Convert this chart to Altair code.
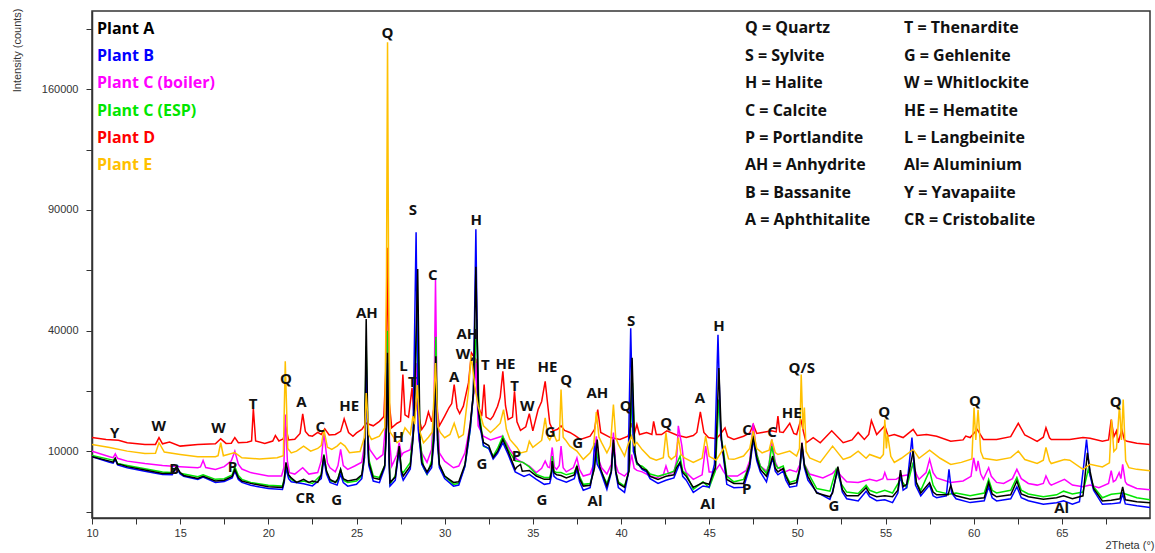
import altair as alt
import pandas as pd

# ---- diffraction patterns: (2theta in degrees, intensity in counts) ----
plant_a = [
    (10.0, 9140), (11.0, 8460), (11.2, 8300), (11.32, 8900), (11.45, 8000), (11.6, 7970),
    (12.0, 7640), (13.0, 7150), (14.0, 6690), (14.55, 6700), (14.8, 7640), (15.0, 6800),
    (15.2, 6420), (16.0, 6030), (16.3, 6300), (17.0, 5700), (17.5, 5800), (17.95, 6300),
    (18.1, 7250), (18.3, 6100), (18.5, 5700), (19.0, 5410), (20.0, 5000), (20.8, 4920),
    (20.9, 5800), (21.0, 8270), (21.15, 6500), (21.3, 6100), (21.6, 5530), (22.0, 5910),
    (22.3, 5530), (22.5, 5700), (22.8, 5530), (23.0, 6500), (23.15, 9350), (23.3, 7000),
    (23.5, 5910), (23.8, 5530), (23.95, 6000), (24.1, 7250), (24.25, 6000), (24.5, 5700),
    (25.0, 5910), (25.3, 6500), (25.45, 9500), (25.55, 44000), (25.65, 12000), (25.7, 8270),
    (25.95, 6100), (26.3, 5910), (26.6, 7800), (26.7, 15000), (26.76, 33000), (26.85, 9000),
    (26.9, 5530), (27.2, 6200), (27.42, 10900), (27.55, 7000), (27.65, 6340), (28.05, 7700),
    (28.25, 14000), (28.47, 63000), (28.6, 12000), (28.7, 8270), (29.0, 6900), (29.26, 8000),
    (29.4, 13000), (29.5, 32000), (29.6, 12000), (29.7, 7970), (30.0, 6340), (30.5, 5530),
    (30.8, 5600), (31.15, 7970), (31.45, 15000), (31.63, 22000), (31.77, 64000), (31.92, 18000),
    (32.0, 15220), (32.2, 11540), (32.5, 11000), (32.75, 9030), (33.0, 10000), (33.3, 12080),
    (33.6, 10000), (34.0, 7250), (34.1, 7600), (34.3, 7970), (34.4, 7000), (34.8, 7100),
    (35.2, 6340), (35.65, 5910), (35.96, 5910), (36.05, 6800), (36.1, 8460), (36.2, 6800),
    (36.35, 6500), (36.6, 6400), (36.9, 6100), (37.35, 6500), (37.5, 7730), (37.65, 6000),
    (37.86, 5080), (38.25, 5180), (38.5, 7500), (38.65, 12080), (38.8, 7600), (39.2, 5080),
    (39.45, 7000), (39.57, 12080), (39.7, 7000), (39.85, 5400), (40.2, 4930), (40.45, 7000),
    (40.63, 31500), (40.78, 10000), (40.9, 8270), (41.2, 7400), (41.45, 7100), (41.65, 6300),
    (42.1, 5900), (42.55, 6300), (43.0, 6500), (43.15, 7500), (43.35, 8270), (43.5, 6800),
    (43.7, 6300), (44.1, 4930), (44.65, 5500), (45.0, 5300), (45.35, 7500), (45.55, 28600),
    (45.7, 12000), (45.8, 9760), (46.0, 5900), (46.4, 5400), (46.95, 5400), (47.3, 8000),
    (47.5, 12680), (47.7, 9000), (47.9, 7250), (48.25, 6300), (48.4, 7300), (48.6, 9250),
    (48.75, 7400), (48.9, 6900), (49.2, 7400), (49.35, 6300), (49.57, 5300), (49.96, 5500),
    (50.15, 7500), (50.26, 11490), (50.4, 7800), (50.6, 6300), (51.1, 4300), (51.85, 3900),
    (52.0, 4300), (52.3, 7640), (52.55, 4700), (52.8, 4000), (53.45, 4000), (53.9, 4900),
    (54.1, 4200), (54.5, 3900), (54.96, 4000), (55.4, 3900), (55.7, 4600), (55.85, 7150),
    (56.0, 5000), (56.2, 5300), (56.57, 10050), (56.75, 5500), (57.0, 4300), (57.5, 5500),
    (57.7, 4400), (57.9, 4100), (58.55, 4100), (58.7, 5200), (58.85, 4200), (59.0, 4000),
    (59.8, 3640), (60.6, 3800), (60.85, 5500), (61.05, 4200), (61.3, 3900), (62.1, 4100),
    (62.45, 5700), (62.7, 4200), (63.1, 3900), (63.95, 3640), (64.7, 3800), (65.1, 4000),
    (65.6, 3700), (66.2, 4000), (66.45, 9760), (66.6, 7000), (66.8, 4800), (67.3, 3480),
    (67.8, 3550), (68.3, 3700), (68.45, 5000), (68.6, 3600), (69.25, 3400), (70.0, 3300),
]

plant_b = [
    (10.0, 9140), (11.0, 8300), (11.2, 8150), (11.32, 8700), (11.45, 7900), (12.0, 7480),
    (13.0, 7000), (14.0, 6560), (14.55, 6500), (14.8, 7500), (15.0, 6600), (15.2, 6300),
    (16.0, 5910), (16.3, 6200), (17.0, 5530), (17.5, 5650), (17.95, 6100), (18.1, 7000),
    (18.3, 5900), (18.5, 5530), (19.0, 5180), (20.0, 4790), (20.8, 4700), (20.9, 5500),
    (21.0, 7480), (21.15, 6000), (21.3, 5600), (22.0, 5350), (22.5, 5100), (23.0, 6000),
    (23.15, 8800), (23.3, 6600), (23.5, 5530), (23.9, 5200), (24.1, 6560), (24.25, 5500),
    (24.5, 5080), (25.0, 5300), (25.3, 6000), (25.45, 9000), (25.55, 30000), (25.65, 10000),
    (25.7, 7800), (25.95, 5700), (26.3, 5500), (26.6, 7500), (26.7, 14000), (26.76, 30000),
    (26.85, 8000), (26.9, 5080), (27.2, 5800), (27.42, 10330), (27.55, 6500), (27.65, 5800),
    (28.05, 7300), (28.2, 12000), (28.38, 79250), (28.5, 14000), (28.7, 8000), (29.0, 6600),
    (29.26, 7500), (29.4, 12000), (29.5, 28000), (29.6, 11000), (29.7, 7500), (30.0, 6000),
    (30.5, 5080), (30.8, 5200), (31.15, 7700), (31.45, 14000), (31.63, 22000), (31.77, 80650),
    (31.9, 18000), (32.0, 14700), (32.2, 11000), (32.5, 10500), (32.75, 8800), (33.0, 9700),
    (33.3, 11500), (33.6, 9500), (34.0, 6900), (34.5, 6300), (34.8, 6560), (35.2, 5900),
    (35.65, 5290), (35.96, 5400), (36.05, 6300), (36.1, 8000), (36.2, 6300), (36.35, 6000),
    (36.9, 5550), (37.35, 6000), (37.5, 7250), (37.65, 5600), (37.86, 4600), (38.25, 4900),
    (38.4, 7000), (38.5, 11490), (38.65, 8000), (38.8, 7250), (39.2, 4700), (39.45, 6800),
    (39.57, 11490), (39.7, 6800), (39.85, 4900), (40.2, 4370), (40.4, 6500), (40.55, 40800),
    (40.7, 10000), (40.9, 8270), (41.2, 7250), (41.45, 6900), (41.65, 6000), (42.1, 5400),
    (42.55, 5800), (43.0, 6100), (43.15, 7000), (43.35, 8270), (43.5, 6300), (43.7, 5800),
    (44.1, 4370), (44.65, 5100), (45.0, 4950), (45.3, 8000), (45.5, 38700), (45.65, 13000),
    (45.8, 9250), (46.0, 5290), (46.4, 4900), (46.95, 4950), (47.3, 7500), (47.5, 12080),
    (47.7, 8500), (47.9, 6900), (48.25, 5600), (48.4, 7000), (48.6, 8970), (48.75, 7000),
    (48.9, 6500), (49.2, 7000), (49.35, 5800), (49.57, 4950), (49.96, 5100), (50.15, 7300),
    (50.26, 11000), (50.4, 7500), (50.6, 5800), (51.1, 4400), (51.85, 3640), (52.0, 4500),
    (52.3, 7250), (52.55, 4400), (52.8, 3700), (53.45, 3480), (53.9, 4500), (54.1, 3900),
    (54.5, 3500), (54.96, 3600), (55.4, 3320), (55.7, 4300), (55.85, 6560), (56.0, 4600),
    (56.2, 4900), (56.5, 12430), (56.7, 5200), (57.0, 4000), (57.5, 5200), (57.7, 4000),
    (57.9, 3800), (58.45, 4000), (58.6, 7250), (58.75, 4300), (59.0, 3700), (59.8, 3320),
    (60.6, 3500), (60.85, 5000), (61.05, 3800), (61.3, 3480), (62.1, 3700), (62.45, 5000),
    (62.7, 3800), (63.1, 3500), (63.95, 3160), (64.7, 3300), (65.1, 3500), (65.6, 3160),
    (66.0, 3400), (66.25, 8000), (66.4, 12080), (66.6, 6500), (66.8, 4600), (67.3, 3160),
    (67.8, 3200), (68.3, 3300), (68.45, 4200), (68.6, 3200), (69.25, 3020), (70.0, 2870),
]

plant_c_boiler = [
    (10.0, 10050), (11.0, 9140), (11.2, 9000), (11.32, 9600), (11.45, 8900), (12.0, 8460),
    (13.0, 8100), (14.0, 7820), (15.0, 7640), (16.0, 7480), (16.15, 7600), (16.3, 8560),
    (16.45, 7500), (17.0, 7250), (17.5, 7640), (17.9, 8500), (18.1, 10050), (18.3, 8000),
    (18.5, 7300), (19.0, 6800), (20.0, 6340), (20.75, 6340), (20.88, 7500), (20.96, 17060),
    (21.08, 8500), (21.2, 6800), (21.5, 6600), (21.95, 7480), (22.3, 6600), (22.8, 6800),
    (23.0, 8500), (23.15, 13390), (23.35, 8200), (23.5, 7480), (23.8, 6900), (23.95, 7800),
    (24.1, 10330), (24.25, 7800), (24.5, 7250), (24.9, 7730), (25.3, 8300), (25.45, 11000),
    (25.55, 25000), (25.68, 11500), (25.75, 10330), (26.15, 8730), (26.5, 9500), (26.65, 15000),
    (26.76, 40000), (26.87, 12000), (27.0, 7730), (27.3, 9500), (27.42, 11490), (27.55, 9300),
    (27.65, 9760), (28.05, 10300), (28.25, 14000), (28.38, 30000), (28.55, 12000), (28.7, 9760),
    (29.0, 8270), (29.26, 10330), (29.4, 20000), (29.48, 58600), (29.57, 20000), (29.7, 9760),
    (30.0, 8460), (30.5, 7480), (30.8, 7730), (31.15, 9760), (31.45, 15000), (31.65, 22000),
    (31.77, 30000), (31.9, 14700), (32.2, 12680), (32.6, 12000), (33.25, 12680), (33.5, 11500),
    (33.7, 10330), (34.1, 8730), (34.8, 7730), (35.2, 6800), (35.5, 7400), (35.7, 8460),
    (35.85, 7600), (35.96, 7500), (36.1, 10670), (36.22, 7600), (36.35, 7250), (36.5, 7800),
    (36.6, 10900), (36.72, 7500), (36.9, 6900), (37.3, 7500), (37.5, 8970), (37.65, 7200),
    (37.86, 6340), (38.25, 6600), (38.45, 8000), (38.6, 12680), (38.75, 8500), (38.9, 7480),
    (39.2, 6600), (39.45, 8000), (39.57, 13390), (39.7, 8000), (39.85, 6800), (40.2, 6340),
    (40.45, 7000), (40.6, 9500), (40.75, 7400), (40.9, 7100), (41.2, 6900), (41.65, 6340),
    (42.0, 6100), (42.4, 6500), (42.55, 7730), (42.7, 6600), (43.0, 6900), (43.15, 8500),
    (43.25, 14700), (43.45, 11000), (43.6, 7500), (43.7, 6800), (44.1, 5910), (44.6, 6500),
    (44.8, 10900), (45.0, 6900), (45.3, 6900), (45.6, 7970), (45.8, 7000), (46.0, 6340),
    (46.6, 6340), (47.1, 7100), (47.3, 8500), (47.5, 15220), (47.7, 9500), (47.9, 7730),
    (48.25, 7000), (48.4, 8000), (48.55, 12080), (48.75, 8300), (48.9, 7480), (49.3, 6900),
    (49.57, 7200), (49.96, 6900), (50.15, 8000), (50.26, 11500), (50.4, 8000), (50.7, 6600),
    (51.45, 6100), (52.0, 6700), (52.2, 7250), (52.5, 6300), (52.8, 5600), (53.45, 5530),
    (54.1, 5910), (54.5, 5700), (54.85, 6000), (54.96, 6800), (55.1, 5900), (55.6, 5910),
    (55.9, 6340), (56.3, 6500), (56.57, 7970), (56.75, 6600), (56.9, 5910), (57.3, 6800),
    (57.5, 8730), (57.7, 6800), (57.9, 6100), (58.7, 5530), (59.4, 5700), (59.85, 6300),
    (60.0, 8970), (60.15, 7000), (60.25, 8500), (60.4, 6600), (60.55, 5910), (60.85, 7480),
    (61.0, 6300), (61.3, 5530), (61.7, 5400), (62.2, 6000), (62.45, 7250), (62.7, 6000),
    (63.1, 5400), (63.6, 5200), (63.95, 5400), (64.1, 6340), (64.3, 5400), (64.4, 5200),
    (65.15, 5900), (65.6, 5200), (66.2, 5000), (66.6, 5200), (67.1, 4900), (67.65, 5400),
    (67.8, 7070), (67.92, 5600), (68.05, 5800), (68.25, 6800), (68.35, 6000), (68.45, 7970),
    (68.6, 5600), (68.7, 5300), (69.25, 4800), (70.0, 4660),
]

plant_c_esp = [
    (10.0, 9350), (11.0, 8730), (11.2, 8600), (11.3, 8900), (11.45, 8100), (12.0, 7820),
    (13.0, 7350), (14.0, 6880), (14.5, 6800), (14.8, 7640), (15.0, 6700), (16.0, 6260),
    (16.3, 6500), (17.0, 5910), (17.5, 6000), (17.95, 6500), (18.1, 7640), (18.3, 6400),
    (18.5, 5910), (19.0, 5530), (20.0, 5180), (20.8, 5080), (20.9, 6000), (21.0, 7970),
    (21.1, 6500), (21.3, 5910), (21.6, 5530), (22.0, 5700), (22.5, 5400), (23.0, 6500),
    (23.15, 9510), (23.3, 7000), (23.5, 5700), (23.9, 5600), (24.1, 7250), (24.25, 5800),
    (24.5, 5530), (25.0, 5700), (25.3, 6300), (25.45, 9000), (25.55, 35000), (25.65, 12000),
    (25.7, 8730), (25.95, 6340), (26.3, 6160), (26.6, 7800), (26.7, 15000), (26.76, 40000),
    (26.85, 10000), (26.9, 5290), (27.2, 6400), (27.42, 10670), (27.55, 7000), (27.65, 6800),
    (28.05, 8270), (28.25, 15000), (28.45, 49060), (28.6, 12000), (28.8, 7480), (29.0, 6560),
    (29.26, 8500), (29.4, 15000), (29.5, 38000), (29.6, 13000), (29.7, 7800), (30.0, 6340),
    (30.5, 5290), (30.8, 5400), (31.15, 7730), (31.45, 14000), (31.63, 22000), (31.82, 44000),
    (31.95, 18000), (32.05, 15000), (32.2, 10900), (32.5, 10500), (32.75, 9250), (33.0, 10500),
    (33.3, 12680), (33.6, 10300), (34.0, 8500), (34.45, 8270), (34.8, 7600), (35.2, 6560),
    (35.65, 6160), (35.96, 6160), (36.05, 7000), (36.1, 9250), (36.2, 7000), (36.35, 6800),
    (36.6, 6800), (36.9, 6500), (37.35, 6800), (37.5, 7730), (37.65, 6300), (37.86, 5290),
    (38.25, 5400), (38.45, 7000), (38.6, 10330), (38.8, 7300), (39.2, 5400), (39.45, 7000),
    (39.57, 11490), (39.7, 7000), (39.85, 5600), (40.2, 5080), (40.45, 7000), (40.65, 24580),
    (40.8, 9000), (40.9, 7970), (41.2, 7700), (41.45, 7200), (41.65, 6600), (42.1, 6300),
    (42.55, 6600), (43.0, 7000), (43.15, 7970), (43.35, 9250), (43.5, 7000), (43.7, 6600),
    (44.1, 4710), (44.65, 5600), (45.0, 4900), (45.35, 7000), (45.55, 20450), (45.7, 12000),
    (45.8, 10330), (46.0, 6340), (46.4, 5600), (46.95, 5900), (47.3, 8000), (47.5, 13390),
    (47.7, 9500), (47.9, 7730), (48.25, 6700), (48.4, 8000), (48.55, 10900), (48.75, 8000),
    (48.9, 7400), (49.2, 7730), (49.35, 6500), (49.57, 5530), (49.96, 5800), (50.15, 7500),
    (50.26, 10900), (50.4, 8000), (50.6, 6800), (51.1, 4800), (51.85, 4500), (52.2, 7250),
    (52.5, 5300), (52.8, 4400), (53.45, 4250), (53.9, 5180), (54.1, 4600), (54.5, 4300),
    (54.96, 4600), (55.4, 4300), (55.85, 5910), (56.2, 4900), (56.57, 8270), (56.75, 5500),
    (57.0, 4600), (57.5, 7070), (57.7, 5200), (57.9, 4500), (58.6, 4160), (59.0, 4300),
    (59.8, 4000), (60.6, 4300), (60.85, 5910), (61.05, 4600), (61.3, 4300), (62.1, 4600),
    (62.45, 6160), (62.7, 4600), (63.1, 4200), (63.95, 3900), (64.7, 4100), (65.1, 4500),
    (65.6, 4200), (66.2, 4400), (66.5, 7250), (66.8, 5000), (67.3, 3800), (67.8, 4160),
    (68.45, 4300), (69.25, 3800), (70.0, 3590),
]

plant_d = [
    (10.0, 12430), (10.8, 12080), (11.5, 11950), (12.0, 11490), (13.0, 11190), (13.6, 11190),
    (13.8, 12430), (14.0, 11300), (14.4, 11600), (15.0, 10900), (16.0, 11190), (17.0, 11300),
    (17.3, 12200), (17.6, 11370), (17.9, 11400), (18.1, 12430), (18.3, 11500), (18.8, 11600),
    (19.05, 11800), (19.15, 18330), (19.28, 11800), (19.8, 11370), (20.25, 11800), (20.4, 12800),
    (20.6, 11800), (20.85, 12200), (20.98, 14500), (21.15, 12000), (21.5, 12100), (21.8, 13200),
    (21.95, 17210), (22.1, 13600), (22.3, 12800), (22.5, 12680), (22.8, 13390), (23.0, 13000),
    (23.2, 14100), (23.45, 12900), (23.8, 13000), (24.1, 13600), (24.3, 16130), (24.55, 13390),
    (24.8, 12680), (25.0, 13300), (25.3, 13970), (25.55, 15220), (25.95, 14700), (26.3, 15610),
    (26.55, 16600), (26.68, 30000), (26.76, 72150), (26.85, 20000), (27.0, 14300), (27.3, 15220),
    (27.5, 15600), (27.63, 26770), (27.75, 17000), (27.95, 16500), (28.15, 23300), (28.25, 17500),
    (28.38, 20000), (28.5, 17000), (28.7, 13970), (28.9, 15000), (29.08, 17600), (29.26, 15500),
    (29.48, 20450), (29.7, 14700), (30.0, 16700), (30.25, 18600), (30.4, 19500), (30.54, 24150),
    (30.7, 18500), (30.85, 17250), (31.06, 18900), (31.35, 24580), (31.52, 33000), (31.77, 31000),
    (31.95, 18500), (32.1, 16700), (32.24, 24150), (32.35, 16500), (32.6, 15980), (32.75, 16700),
    (33.0, 18900), (33.15, 21000), (33.3, 27680), (33.45, 19000), (33.6, 15980), (33.85, 16500),
    (33.96, 22460), (34.1, 15500), (34.3, 13800), (34.6, 14500), (34.8, 17250), (35.0, 13700),
    (35.3, 18140), (35.5, 20000), (35.7, 25000), (35.85, 19000), (35.96, 15220), (36.15, 13700),
    (36.4, 14000), (36.6, 14700), (36.8, 13800), (37.1, 13390), (37.4, 12800), (37.7, 12080),
    (38.25, 12680), (38.5, 14000), (38.68, 18140), (38.85, 13390), (39.4, 12430), (39.94, 12080),
    (40.4, 12680), (40.6, 15220), (40.75, 13000), (40.9, 14960), (41.05, 13000), (41.45, 13390),
    (41.75, 13000), (41.85, 15610), (42.0, 13000), (42.3, 13000), (42.6, 13700), (43.15, 12900),
    (43.7, 12430), (44.1, 12800), (44.3, 13390), (44.5, 17600), (44.7, 13400), (44.96, 12430),
    (45.4, 12200), (45.6, 12900), (45.9, 14300), (46.05, 12600), (46.4, 12080), (46.95, 12680),
    (47.3, 13300), (47.5, 14960), (47.7, 13200), (48.0, 13390), (48.55, 13700), (48.8, 13500),
    (48.9, 16700), (49.0, 13500), (49.2, 13390), (49.57, 15220), (49.8, 13200), (49.96, 13000),
    (50.2, 16000), (50.35, 13500), (50.5, 11490), (50.9, 12430), (51.3, 11490), (51.95, 13700),
    (52.6, 11490), (53.1, 12000), (53.45, 13390), (53.8, 12080), (54.05, 13000), (54.2, 15800),
    (54.5, 13000), (54.96, 14700), (55.15, 12700), (55.5, 13000), (56.0, 12430), (56.57, 13970),
    (56.8, 12800), (57.33, 13000), (57.9, 12680), (58.7, 11750), (59.4, 12000), (59.55, 12700),
    (59.8, 12430), (60.2, 13970), (60.55, 12080), (61.3, 12080), (62.1, 12600), (62.53, 15200),
    (62.9, 12900), (63.2, 12430), (63.6, 11750), (63.95, 12500), (64.1, 14300), (64.3, 12400),
    (64.4, 12080), (65.45, 12080), (66.2, 12430), (66.6, 12300), (67.3, 11750), (67.65, 12000),
    (67.8, 15980), (67.95, 12600), (68.1, 13700), (68.2, 11500), (68.4, 13970), (68.55, 12000),
    (68.7, 11750), (69.25, 11410), (70.0, 11190),
]

plant_e = [
    (10.0, 11190), (11.0, 10670), (12.0, 10050), (13.0, 9680), (13.6, 9700), (13.8, 11490),
    (14.1, 9900), (15.0, 9510), (16.0, 9140), (17.0, 9140), (17.15, 9300), (17.3, 11490),
    (17.45, 9300), (18.1, 9800), (18.5, 8970), (19.5, 8800), (20.5, 8970), (20.85, 9300),
    (20.96, 30480), (21.1, 10500), (21.3, 9760), (21.6, 10050), (22.0, 10900), (22.4, 10050),
    (22.8, 10500), (23.0, 11000), (23.15, 13970), (23.35, 10700), (23.6, 10330), (23.9, 10900),
    (24.1, 11490), (24.35, 10900), (24.6, 9800), (25.2, 10000), (25.45, 12500), (25.55, 22000),
    (25.7, 13000), (25.85, 12080), (26.3, 12680), (26.6, 14300), (26.7, 60000), (26.76, 192700),
    (26.82, 60000), (26.9, 13500), (27.3, 11490), (27.5, 12000), (27.75, 14300), (28.05, 13000),
    (28.2, 16700), (28.3, 15000), (28.45, 24000), (28.6, 13500), (28.8, 11490), (29.08, 12500),
    (29.3, 13500), (29.48, 30000), (29.62, 14500), (29.75, 13390), (30.0, 12400), (30.3, 13000),
    (30.54, 15220), (30.8, 12430), (31.06, 13000), (31.35, 22520), (31.5, 32470), (31.7, 24000),
    (31.9, 18900), (32.2, 14700), (32.6, 13390), (32.9, 14300), (33.15, 15220), (33.34, 18140),
    (33.5, 14000), (33.7, 12080), (34.1, 10670), (34.3, 9760), (34.65, 10000), (34.8, 11750),
    (35.0, 10670), (35.5, 11900), (35.7, 16340), (35.85, 12500), (35.96, 12000), (36.15, 13390),
    (36.35, 11800), (36.5, 12000), (36.6, 22860), (36.72, 12500), (36.85, 12000), (37.1, 10900),
    (37.5, 10050), (37.86, 8730), (38.25, 9760), (38.45, 11000), (38.6, 17600), (38.75, 12500),
    (38.9, 11500), (39.2, 9760), (39.4, 11000), (39.57, 19270), (39.7, 12500), (39.85, 11190),
    (40.2, 9250), (40.4, 11190), (40.6, 12700), (40.75, 11000), (40.9, 11540), (41.2, 10300),
    (41.65, 8970), (42.0, 8600), (42.4, 9000), (42.55, 13390), (42.7, 9200), (42.85, 8730),
    (43.1, 9300), (43.25, 12430), (43.4, 9500), (43.6, 8970), (44.1, 8270), (44.6, 8900),
    (44.8, 12680), (45.0, 9200), (45.4, 8600), (45.9, 10900), (46.1, 8800), (46.4, 8730),
    (46.95, 9250), (47.3, 10500), (47.5, 13700), (47.7, 10500), (48.0, 9760), (48.4, 10200),
    (48.55, 12080), (48.75, 9800), (48.9, 9500), (49.57, 10050), (49.96, 9250), (50.12, 10500),
    (50.22, 26770), (50.32, 14000), (50.4, 18600), (50.5, 10000), (50.7, 8970), (51.3, 8270),
    (52.0, 10900), (52.6, 8730), (53.0, 9100), (53.45, 10050), (53.9, 8900), (54.1, 9500),
    (54.7, 8900), (54.88, 9500), (54.96, 15980), (55.05, 10500), (55.12, 13000), (55.3, 9200),
    (55.5, 8270), (55.9, 8900), (56.57, 10330), (56.9, 8900), (57.5, 10220), (58.1, 8900),
    (58.7, 7970), (59.3, 8270), (59.9, 8800), (60.02, 18600), (60.12, 12000), (60.25, 18100),
    (60.4, 10000), (60.55, 8900), (61.3, 8600), (62.1, 9000), (62.53, 10050), (62.9, 8700),
    (63.6, 8100), (63.95, 8600), (64.1, 10670), (64.3, 8500), (64.4, 8100), (65.15, 8700),
    (65.45, 8600), (66.2, 7250), (66.6, 8000), (67.3, 7600), (67.7, 8200), (67.82, 15980),
    (67.95, 10000), (68.1, 10500), (68.27, 19000), (68.38, 12000), (68.48, 20450), (68.62, 8500),
    (68.8, 7500), (69.25, 7250), (70.0, 7070),
]

# ---- names, colours and drawing order ----
plant_names = ["Plant A", "Plant B", "Plant C (boiler)", "Plant C (ESP)", "Plant D", "Plant E"]
plant_colors = ["#000000", "#0000ff", "#ff00ff", "#00e600", "#ff0000", "#ffc000"]
plant_data = [plant_a, plant_b, plant_c_boiler, plant_c_esp, plant_d, plant_e]
draw_order = ["Plant D", "Plant C (boiler)", "Plant C (ESP)", "Plant B", "Plant A", "Plant E"]

# ---- phase identification labels: (text, 2theta, counts) ----
peak_labels = [
    ("Y", 11.28, 13270), ("W", 13.78, 14570), ("B", 14.67, 7290), ("W", 17.18, 14260),
    ("P", 17.97, 7590), ("T", 19.14, 19460), ("Q", 21.0, 25570), ("A", 21.88, 19770),
    ("CR", 22.09, 3810), ("C", 22.94, 14500), ("G", 23.87, 3600), ("HE", 24.59, 18850),
    ("AH", 25.59, 46050), ("Q", 26.76, 199300), ("H", 27.36, 12500), ("L", 27.66, 29040),
    ("T", 28.17, 24930), ("S", 28.2, 90060), ("C", 29.33, 60660), ("A", 30.54, 26110),
    ("AH", 31.29, 38970), ("W,", 31.16, 32720), ("H", 31.79, 85030), ("T", 32.3, 29520),
    ("G", 32.11, 8030), ("HE", 33.45, 29650), ("T", 33.96, 23840), ("P", 34.07, 9220),
    ("W", 34.69, 18850), ("G", 35.51, 3600), ("HE", 35.83, 28870), ("G", 35.98, 13390),
    ("Q", 36.89, 25220), ("G", 37.54, 11450), ("AH", 38.66, 21990), ("Al", 38.53, 3430),
    ("Q", 40.27, 18880), ("S", 40.57, 43350), ("Q", 42.56, 15330), ("A", 44.48, 20790),
    ("Al", 44.92, 3170), ("H", 45.56, 41410), ("C", 47.15, 13920), ("P", 47.13, 4750),
    ("C", 48.57, 13390), ("HE", 49.68, 17370), ("Q/S", 50.25, 28560), ("G", 52.08, 3030),
    ("Q", 54.93, 17500), ("Q", 60.07, 19990), ("Al", 64.99, 2820), ("Q", 68.05, 19770),
]

# ---- mineral key ----
key_left = ["Q = Quartz", "S = Sylvite", "H = Halite", "C = Calcite", "P = Portlandite",
            "AH = Anhydrite", "B = Bassanite", "A = Aphthitalite"]
key_right = ["T = Thenardite", "G = Gehlenite", "W = Whitlockite", "HE = Hematite",
             "L = Langbeinite", "Al= Aluminium", "Y = Yavapaiite", "CR = Cristobalite"]

# ---- axis ticks ----
x_ticks = [10 + 2.5 * i for i in range(24)]
x_labelled = [10, 15, 20, 25, 30, 35, 40, 45, 50, 55, 60, 65]
y_ticks = [2500, 10000, 22500, 40000, 62500, 90000, 122500, 160000, 202500]
y_labelled = [10000, 40000, 90000, 160000]

W, H = 1058, 507
LABEL_FONT = "Open Sans"
TICK_FONT = "Liberation Sans"

x_scale = alt.Scale(domain=[10, 70], nice=False, zero=False)
y_scale = alt.Scale(type="sqrt", domain=[2013, 216040], nice=False, zero=False)

x_axis = alt.Axis(
    values=x_ticks,
    labelExpr="indexof(%s, datum.value) >= 0 ? datum.label : ''" % str(x_labelled),
    title="2Theta (°)", grid=False, tickSize=6, tickColor="#333333", tickWidth=1,
    domainColor="#333333", domainWidth=1.5, labelFont=TICK_FONT, labelFontSize=11,
    labelColor="#333333", labelPadding=3, labelFlush=False, labelOverlap=False,
    titleFont=TICK_FONT, titleFontSize=11, titleFontWeight="normal", titleColor="#333333",
    titleAnchor="end", titleAlign="right", titleBaseline="middle", titleX=W + 4, titleY=27,
)
y_axis = alt.Axis(
    values=y_ticks, format="d",
    labelExpr="indexof(%s, datum.value) >= 0 ? datum.label : ''" % str(y_labelled),
    title="Intensity (counts)", grid=False, tickSize=6, tickColor="#333333", tickWidth=1,
    domainColor="#333333", domainWidth=1.5, labelFont=TICK_FONT, labelFontSize=11,
    labelColor="#333333", labelPadding=8, labelFlush=False, labelOverlap=False,
    titleFont=TICK_FONT, titleFontSize=11, titleFontWeight="normal", titleColor="#333333",
    titleAnchor="end", titleAngle=270, titleAlign="right", titleBaseline="middle",
    titleX=-75, titleY=-3,
)

frames = []
for name, color, pts in zip(plant_names, plant_colors, plant_data):
    frames.append(pd.DataFrame({
        "plant": name,
        "two_theta": [p[0] for p in pts],
        "counts": [p[1] for p in pts],
    }))
patterns = pd.concat(frames, ignore_index=True)
color_of = dict(zip(plant_names, plant_colors))

layers = []
for name in draw_order:
    layers.append(
        alt.Chart(patterns)
        .transform_filter(alt.datum.plant == name)
        .mark_line(color=color_of[name], strokeWidth=1.5, clip=True)
        .encode(
            x=alt.X("two_theta:Q", scale=x_scale, axis=x_axis),
            y=alt.Y("counts:Q", scale=y_scale, axis=y_axis),
        )
    )

labels_df = pd.DataFrame({
    "text": [p[0] for p in peak_labels],
    "two_theta": [p[1] for p in peak_labels],
    "counts": [p[2] for p in peak_labels],
})
layers.append(
    alt.Chart(labels_df)
    .mark_text(font=LABEL_FONT, fontSize=15, fontWeight="bold", color="#111111",
               align="center", baseline="middle")
    .encode(
        x=alt.X("two_theta:Q", scale=x_scale, axis=x_axis),
        y=alt.Y("counts:Q", scale=y_scale, axis=y_axis),
        text="text:N",
    )
)

# plant legend, top left inside the frame
for i, (name, color) in enumerate(zip(plant_names, plant_colors)):
    layers.append(
        alt.Chart(pd.DataFrame({"t": [name]}))
        .mark_text(font=LABEL_FONT, fontSize=16, fontWeight="bold", color=color,
                   align="left", baseline="middle")
        .encode(x=alt.value(5), y=alt.value(18 + 27.2 * i), text="t:N")
    )

# mineral key, top right inside the frame
for col_x, entries in ((653, key_left), (812, key_right)):
    for i, entry in enumerate(entries):
        layers.append(
            alt.Chart(pd.DataFrame({"t": [entry]}))
            .mark_text(font=LABEL_FONT, fontSize=16, fontWeight="bold", color="#111111",
                       align="left", baseline="middle")
            .encode(x=alt.value(col_x), y=alt.value(17.3 + 27.4 * i), text="t:N")
        )

chart = (
    alt.layer(*layers)
    .properties(
        width=W, height=H,
        padding={"left": 92, "top": 11, "right": 5, "bottom": 35},
        autosize=alt.AutoSizeParams(type="none"),
        background="white",
    )
    .configure_view(stroke="#333333", strokeWidth=1.5)
)

chart.save("out.html", embed_options={"renderer": "svg", "actions": False})
